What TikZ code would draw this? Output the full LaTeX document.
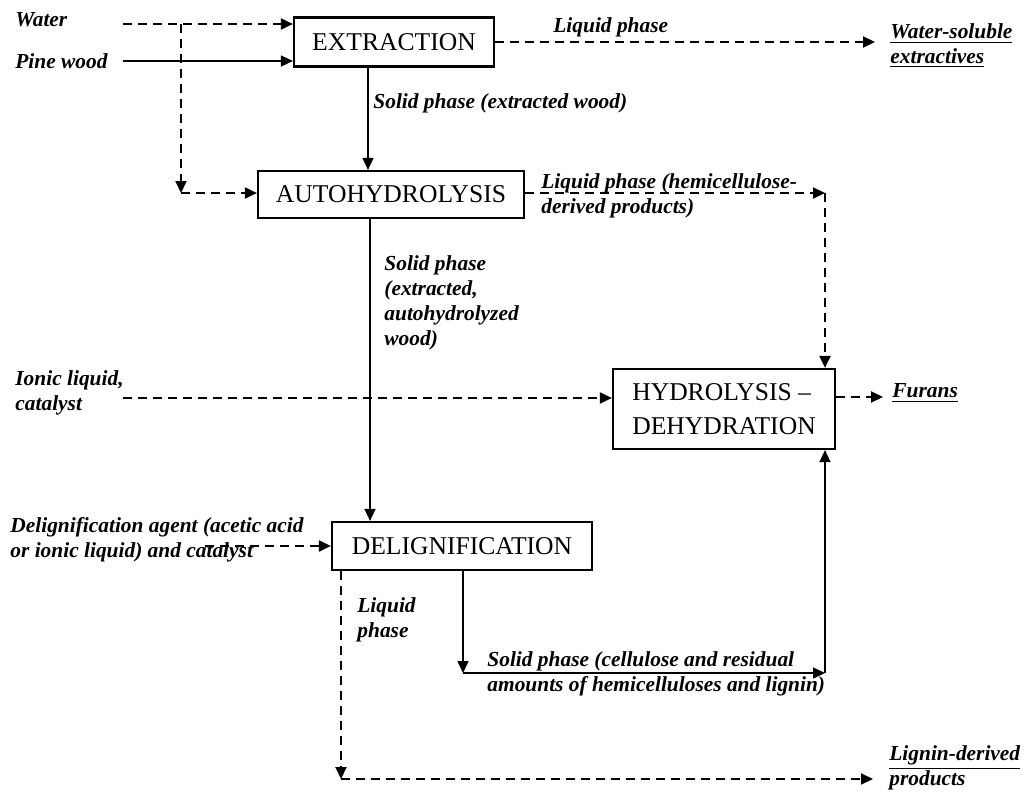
\documentclass[tikz,border=0pt]{standalone}
\usepackage{fontspec}
\setmainfont{Liberation Serif}
\usetikzlibrary{positioning}
\usetikzlibrary{arrows.meta}

\begin{document}
\begin{tikzpicture}[
    x=0.5pt, y=-0.5pt,
    procbox/.style={draw,line width=1.1pt,inner sep=0pt,font=\fontsize{12.8}{17}\selectfont},
    lbl/.style={inner sep=0pt,anchor=west,align=left,font=\fontsize{10.7}{12.5}\selectfont\bfseries\itshape},
    solidflow/.style={line width=0.75pt,-{Triangle[length=6pt,width=5.5pt]}},
    dashflow/.style={line width=1pt,dash pattern=on 4.5pt off 3pt,-{Triangle[length=6pt,width=5.5pt]}}
    ]
    \useasboundingbox (0,0) rectangle (1027,792);

    % process boxes
    \node[procbox,minimum width=100pt,minimum height=24.5pt] (extraction) at (394,42) {EXTRACTION};
    \node[procbox,minimum width=133pt,minimum height=23.5pt] (autohydro) at (391,194.5) {AUTOHYDROLYSIS};
    \node[procbox,minimum width=111pt,minimum height=40pt,align=left] (hydro) at (724,409) {HYDROLYSIS --\\DEHYDRATION};
    \node[procbox,minimum width=130pt,minimum height=24pt] (delig) at (462,546) {DELIGNIFICATION};

    % inputs, streams and products
    \node[lbl] (water) at (15,20) {Water};
    \node[lbl] (pinewood) at (15,61) {Pine wood};
    \node[lbl] (ionic) at (15,393) {Ionic liquid,\\catalyst};
    \node[lbl] (delagent) at (10,540) {Delignification agent (acetic acid\\or ionic liquid) and catalyst};
    \node[lbl] (liqext) at (553,27) {Liquid phase};
    \node[lbl] (solext) at (373,103) {Solid phase (extracted wood)};
    \node[lbl] (liqauto) at (541,196) {Liquid phase (hemicellulose-\\derived products)};
    \node[lbl] (solauto) at (384,303) {Solid phase\\(extracted,\\autohydrolyzed\\wood)};
    \node[lbl] (liqdel) at (357,620) {Liquid\\phase};
    \node[lbl] (soldel) at (487,674) {Solid phase (cellulose and residual\\amounts of hemicelluloses and lignin)};
    \node[lbl] (watersol) at (890,46) {\underline{Water-soluble}\\\underline{extractives}};
    \node[lbl] (furans) at (892,393) {\underline{Furans}};
    \node[lbl] (lignin) at (889,770) {\underline{Lignin-derived}\\\underline{products}};

    % free ends and corners
    \coordinate (waterin) at (123,24);
    \coordinate (waterfork) at (181,24);
    \coordinate (autoin) at (181,193);
    \coordinate (woodin) at (123,61);
    \coordinate (ionicin) at (123,398);
    \coordinate (agentin) at (205,546);
    \coordinate (furanout) at (883,397);
    \coordinate (hemicorner) at (825,193);
    \coordinate (ligcorner) at (341,779);
    \coordinate (celldrop) at (463,673);
    \coordinate (cellcorner) at (825,673);

    \path (waterin) edge[dashflow] (extraction.west |- waterin)
    (waterfork) edge[dashflow] (autoin)
    (autoin) edge[dashflow] (autoin -| autohydro.west)
    (woodin) edge[solidflow] (extraction.west |- woodin)
    ([xshift=-13pt]extraction.south) edge[solidflow] ([xshift=-13pt]extraction.south |- autohydro.north)
    (extraction.east) edge[dashflow] ([xshift=-7.5pt]watersol.west |- extraction.east)
    (autohydro.east |- hemicorner) edge[dashflow] (hemicorner)
    (hemicorner) edge[dashflow] (hemicorner |- hydro.north)
    (ionicin) edge[dashflow] (hydro.west |- ionicin)
    (hydro.east |- furanout) edge[dashflow] (furanout)
    (agentin) edge[dashflow] (delig.west |- agentin)
    ([xshift=-10.5pt]autohydro.south) edge[solidflow] ([xshift=-10.5pt]autohydro.south |- delig.north)
    (delig.south west -| ligcorner) edge[dashflow] (ligcorner)
    (ligcorner) edge[dashflow] ([xshift=-8pt]lignin.west |- ligcorner)
    (delig.south -| celldrop) edge[solidflow] (celldrop)
    (celldrop) edge[solidflow] (cellcorner)
    (cellcorner) edge[solidflow] (hydro.south -| cellcorner)
    ;

\end{tikzpicture}
\end{document}
